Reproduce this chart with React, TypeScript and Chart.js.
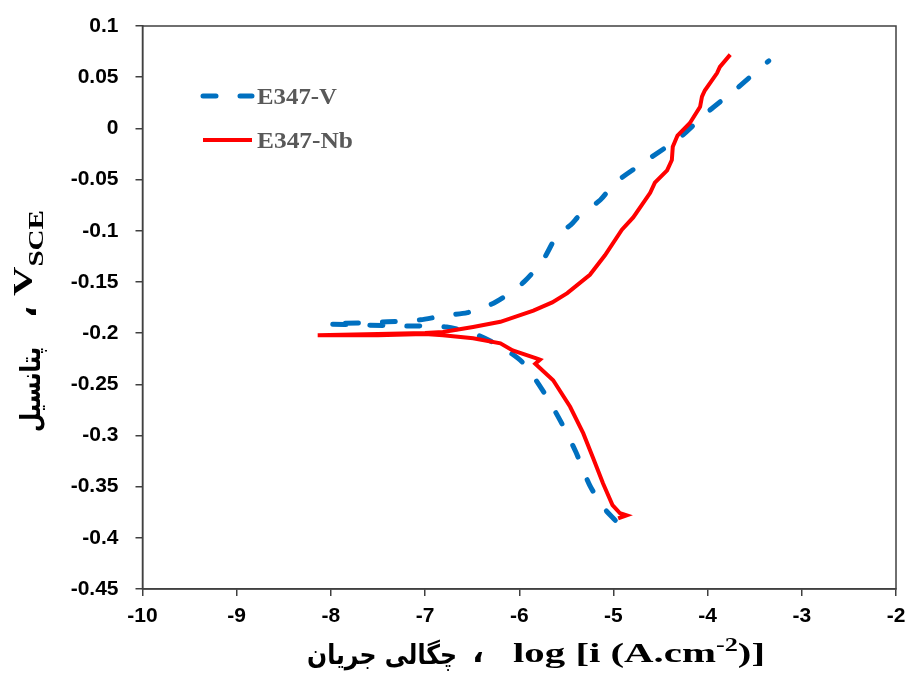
import React, { useEffect, useRef } from 'react';
import { Chart, registerables } from 'chart.js';

Chart.register(...registerables);

// ---- Data (log i, potential V vs SCE) ----
const seriesNames = ['E347-V', 'E347-Nb'];

const vLogI = [
  -4.98, -5.1, -5.25, -5.4, -5.55, -5.73, -5.96, -6.2, -6.47, -6.77, -7.2, -7.7, -8.04,
  -7.7, -7.4, -7.05, -6.8, -6.55, -6.3, -6.15, -5.95, -5.75, -5.6, -5.45, -5.36, -5.14,
  -4.98, -4.61, -4.29, -4.0, -3.69, -3.35,
];
const vPot = [
  -0.383, -0.371, -0.349, -0.316, -0.288, -0.259, -0.229, -0.213, -0.201, -0.194, -0.193, -0.192, -0.191,
  -0.19, -0.189, -0.187, -0.183, -0.18, -0.172, -0.164, -0.15, -0.129, -0.105, -0.094, -0.085, -0.07,
  -0.053, -0.029, -0.0085, 0.016, 0.039, 0.066,
];

const nbLogI = [
  -3.76, -3.87, -3.9, -4.03, -4.06, -4.08, -4.19, -4.32, -4.37, -4.38, -4.43, -4.56, -4.61,
  -4.79, -4.91, -5.09, -5.25, -5.49, -5.65, -5.85, -6.2, -6.49, -6.81, -7.0, -7.5, -8.14,
  -7.5, -7.0, -6.81, -6.49, -6.2, -6.07, -5.81, -5.78, -5.83, -5.64, -5.46, -5.32, -5.22,
  -5.11, -5.01, -4.93, -4.86, -4.95,
];
const nbPot = [
  0.072, 0.06, 0.054, 0.037, 0.031, 0.021, 0.005, -0.007, -0.018, -0.031, -0.041, -0.053, -0.063,
  -0.087, -0.099, -0.124, -0.143, -0.161, -0.17, -0.178, -0.189, -0.194, -0.199, -0.2, -0.201, -0.202,
  -0.202, -0.201, -0.202, -0.205, -0.21, -0.217, -0.225, -0.226, -0.23, -0.246, -0.272, -0.298, -0.321,
  -0.347, -0.368, -0.376, -0.378, -0.381,
];

const xTickLabels = ['-10', '-9', '-8', '-7', '-6', '-5', '-4', '-3', '-2'];
const yTickLabels = ['-0.45', '-0.4', '-0.35', '-0.3', '-0.25', '-0.2', '-0.15', '-0.1', '-0.05', '0', '0.05', '0.1'];

const xTitleFa = 'چگالی جریان';
const xTitleEn = 'log [i (A.cm';
const xTitleSup = '-2';
const xTitleEnd = ')]';
const yTitleFa = 'پتانسیل';
const yTitleEn = 'V';
const yTitleSub = 'SCE';
const comma = '،';

const BLUE = '#0070C0';
const RED = '#FF0000';
const FRAME = '#404040';
const SERIF = '"Liberation Serif", "Times New Roman", serif';
const FA = '"DejaVu Sans", sans-serif';

const zip = (xs: number[], ys: number[]) => xs.map((x, i) => ({ x, y: ys[i] }));
const findLabel = (labels: string[], v: number) => {
  const l = labels.find((s) => Math.abs(Number(s) - v) < 1e-6);
  return l === undefined ? '' : l;
};

type Part = { text: string; font: string; dy?: number };
function fitText(ctx: CanvasRenderingContext2D, parts: Part[], x0: number, x1: number, baseline: number) {
  const widths = parts.map((p) => {
    ctx.font = p.font;
    return ctx.measureText(p.text).width;
  });
  const total = widths.reduce((a, b) => a + b, 0);
  const s = (x1 - x0) / total;
  ctx.save();
  ctx.translate(x0, baseline);
  ctx.scale(s, 1);
  let x = 0;
  parts.forEach((p, i) => {
    ctx.font = p.font;
    ctx.fillText(p.text, x, p.dy || 0);
    x += widths[i];
  });
  ctx.restore();
}

const decorPlugin = {
  id: 'decor',
  afterDraw(chart: any) {
    const ctx: CanvasRenderingContext2D = chart.ctx;
    const a = chart.chartArea;
    ctx.save();
    // frame
    ctx.strokeStyle = FRAME;
    ctx.lineWidth = 1.5;
    ctx.strokeRect(a.left, a.top, a.right - a.left, a.bottom - a.top);

    // legend
    const ds = chart.data.datasets;
    const items = [
      { y: 96, d: ds[1] },
      { y: 140, d: ds[0] },
    ];
    items.forEach((it) => {
      ctx.save();
      ctx.strokeStyle = it.d.borderColor;
      ctx.lineWidth = it.d.borderWidth;
      ctx.lineCap = it.d.borderCapStyle || 'butt';
      ctx.setLineDash(it.d.borderDash || []);
      ctx.beginPath();
      ctx.moveTo(203, it.y);
      ctx.lineTo(252, it.y);
      ctx.stroke();
      ctx.restore();
    });
    ctx.fillStyle = '#595959';
    ctx.textBaseline = 'alphabetic';
    ctx.textAlign = 'left';
    fitText(ctx, [{ text: seriesNames[0], font: `bold 23px ${SERIF}` }], 257, 337, 104);
    fitText(ctx, [{ text: seriesNames[1], font: `bold 23px ${SERIF}` }], 257, 353, 148);

    // x title
    ctx.fillStyle = '#000';
    fitText(ctx, [{ text: xTitleFa, font: `bold 27px ${FA}` }], 307, 457, 664);
    fitText(ctx, [{ text: comma, font: `bold 30px ${FA}` }], 472, 484, 662);
    fitText(
      ctx,
      [
        { text: xTitleEn, font: `bold 28px ${SERIF}` },
        { text: xTitleSup, font: `bold 18px ${SERIF}`, dy: -11 },
        { text: xTitleEnd, font: `bold 28px ${SERIF}` },
      ],
      513,
      765,
      662
    );

    // y title (rotated)
    ctx.save();
    ctx.rotate(-Math.PI / 2);
    fitText(ctx, [{ text: yTitleFa, font: `bold 28px ${FA}` }], -432, -347, 40);
    fitText(ctx, [{ text: comma, font: `bold 30px ${FA}` }], -318, -306, 36);
    fitText(
      ctx,
      [
        { text: yTitleEn, font: `bold 28px ${SERIF}` },
        { text: yTitleSub, font: `bold 20px ${SERIF}`, dy: 11 },
      ],
      -296,
      -210,
      32
    );
    ctx.restore();
    ctx.restore();
  },
};

export default function App() {
  const ref = useRef<HTMLCanvasElement | null>(null);
  useEffect(() => {
    if (!ref.current) return;
    const tickFont = { family: '"Liberation Sans", Arial, sans-serif', size: 21, weight: 'bold' as const };
    const chart = new Chart(ref.current, {
      type: 'scatter',
      data: {
        datasets: [
          {
            label: seriesNames[1],
            data: zip(nbLogI, nbPot),
            showLine: true,
            borderColor: RED,
            backgroundColor: RED,
            borderWidth: 4,
            pointRadius: 0,
            tension: 0,
            order: 0,
          },
          {
            label: seriesNames[0],
            data: zip(vLogI, vPot),
            showLine: true,
            borderColor: BLUE,
            backgroundColor: BLUE,
            borderWidth: 5,
            borderDash: [13, 24],
            borderCapStyle: 'round',
            pointRadius: 0,
            tension: 0.25,
            order: 1,
          },
        ],
      },
      options: {
        animation: false,
        responsive: true,
        maintainAspectRatio: false,
        layout: { padding: { top: 26, right: 11, left: 0, bottom: 0 } },
        plugins: {
          legend: { display: false },
          tooltip: { enabled: false },
        },
        scales: {
          x: {
            type: 'linear',
            min: -10,
            max: -2,
            ticks: {
              stepSize: 1,
              font: tickFont,
              color: '#000',
              padding: 8,
              callback: (v: any) => findLabel(xTickLabels, Number(v)),
            },
            grid: { display: true, drawOnChartArea: false, drawTicks: true, tickLength: 7, color: FRAME, lineWidth: 1.5 },
            border: { display: true, color: FRAME, width: 1.5 },
            afterFit: (s: any) => {
              s.height = 98;
              s.paddingLeft = 0;
              s.paddingRight = 0;
            },
          },
          y: {
            type: 'linear',
            min: -0.45,
            max: 0.1,
            ticks: {
              stepSize: 0.05,
              font: tickFont,
              color: '#000',
              padding: 17,
              callback: (v: any) => findLabel(yTickLabels, Number(v)),
            },
            grid: { display: true, drawOnChartArea: false, drawTicks: true, tickLength: 7, color: FRAME, lineWidth: 1.5 },
            border: { display: true, color: FRAME, width: 1.5 },
            afterFit: (s: any) => {
              s.width = 142.5;
              s.paddingTop = 0;
              s.paddingBottom = 0;
            },
          },
        },
      },
      plugins: [decorPlugin],
    });
    return () => chart.destroy();
  }, []);
  return (
    <div style={{ position: 'fixed', left: 0, top: 0, width: 907, height: 687, background: '#fff' }}>
      <canvas ref={ref} />
    </div>
  );
}
